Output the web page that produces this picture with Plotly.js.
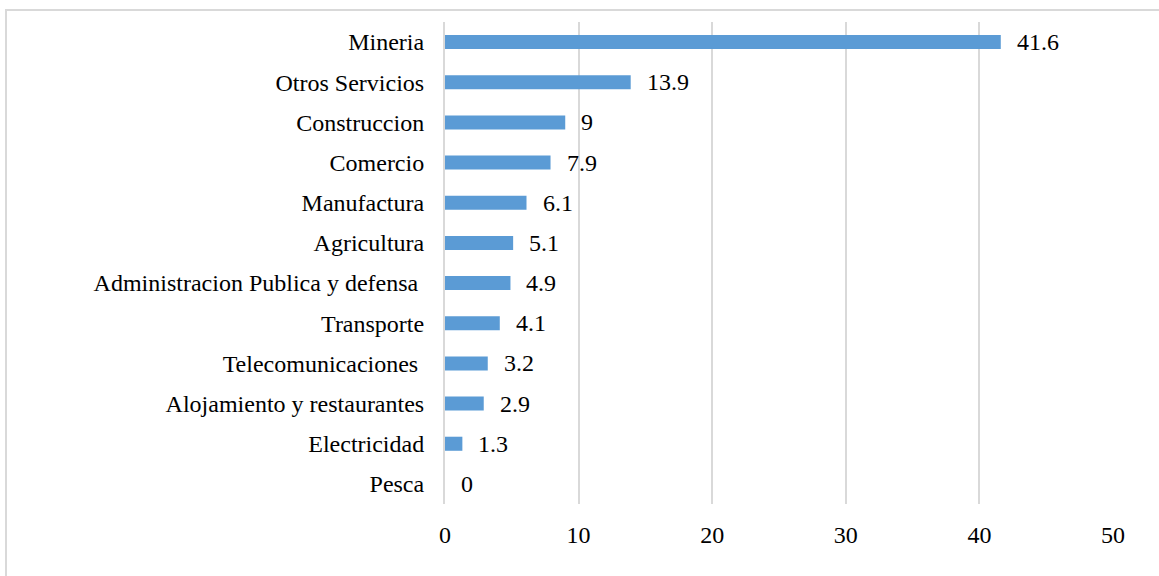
<!DOCTYPE html>
<html>
<head>
<meta charset="utf-8">
<script src="https://cdn.plot.ly/plotly-3.0.1.min.js"></script>
<style>
html,body{margin:0;padding:0;overflow:hidden;background:#fff;}
#wrap{position:relative;width:1159px;height:576px;overflow:hidden;}
#chart{position:absolute;left:0;top:0;width:1159px;height:576px;}
#frame{position:absolute;left:5px;top:9px;width:1300px;height:700px;border:2px solid #d9d9d9;box-sizing:border-box;pointer-events:none;}
</style>
</head>
<body>
<div id="wrap"><div id="chart"></div><div id="frame"></div></div>
<script>
const categories = ["Mineria","Otros Servicios","Construccion","Comercio","Manufactura","Agricultura","Administracion Publica y defensa\u00a0","Transporte","Telecomunicaciones\u00a0","Alojamiento y restaurantes","Electricidad","Pesca"];
const values = [41.6, 13.9, 9, 7.9, 6.1, 5.1, 4.9, 4.1, 3.2, 2.9, 1.3, 0];
const xTicks = [0, 10, 20, 30, 40, 50];

const FONT = "Liberation Serif";
const FS = 24;

const trace = {
  type: 'bar',
  orientation: 'h',
  x: values,
  y: categories,
  marker: {color: '#5b9bd5'},
  hoverinfo: 'x+y'
};

const annotations = values.map((v, i) => ({
  x: v, y: categories[i], xref: 'x', yref: 'y',
  text: String(v), showarrow: false, xanchor: 'left', yanchor: 'middle',
  xshift: 14, font: {family: FONT, size: FS, color: '#000'}
}));

const layout = {
  width: 1159, height: 576,
  margin: {l: 445, r: 46, t: 22, b: 72, pad: 0},
  paper_bgcolor: '#fff', plot_bgcolor: '#fff',
  bargap: 0.65,
  showlegend: false,
  font: {family: FONT, size: FS, color: '#000'},
  xaxis: {
    range: [0, 50], tickvals: xTicks, ticktext: xTicks.map(String),
    showgrid: true, gridcolor: '#d9d9d9', gridwidth: 2,
    zeroline: false, showline: false, ticks: '',
    ticklabelstandoff: 14, fixedrange: true,
    tickfont: {family: FONT, size: FS, color: '#000'}
  },
  yaxis: {
    autorange: 'reversed', type: 'category',
    showline: true, linecolor: '#d9d9d9', linewidth: 2,
    showgrid: false, zeroline: false, ticks: '',
    ticklabelstandoff: 14, fixedrange: true,
    tickfont: {family: FONT, size: FS, color: '#000'}
  },
  annotations: annotations
};

Plotly.newPlot('chart', [trace], layout, {displayModeBar: false, staticPlot: true});
</script>
</body>
</html>
